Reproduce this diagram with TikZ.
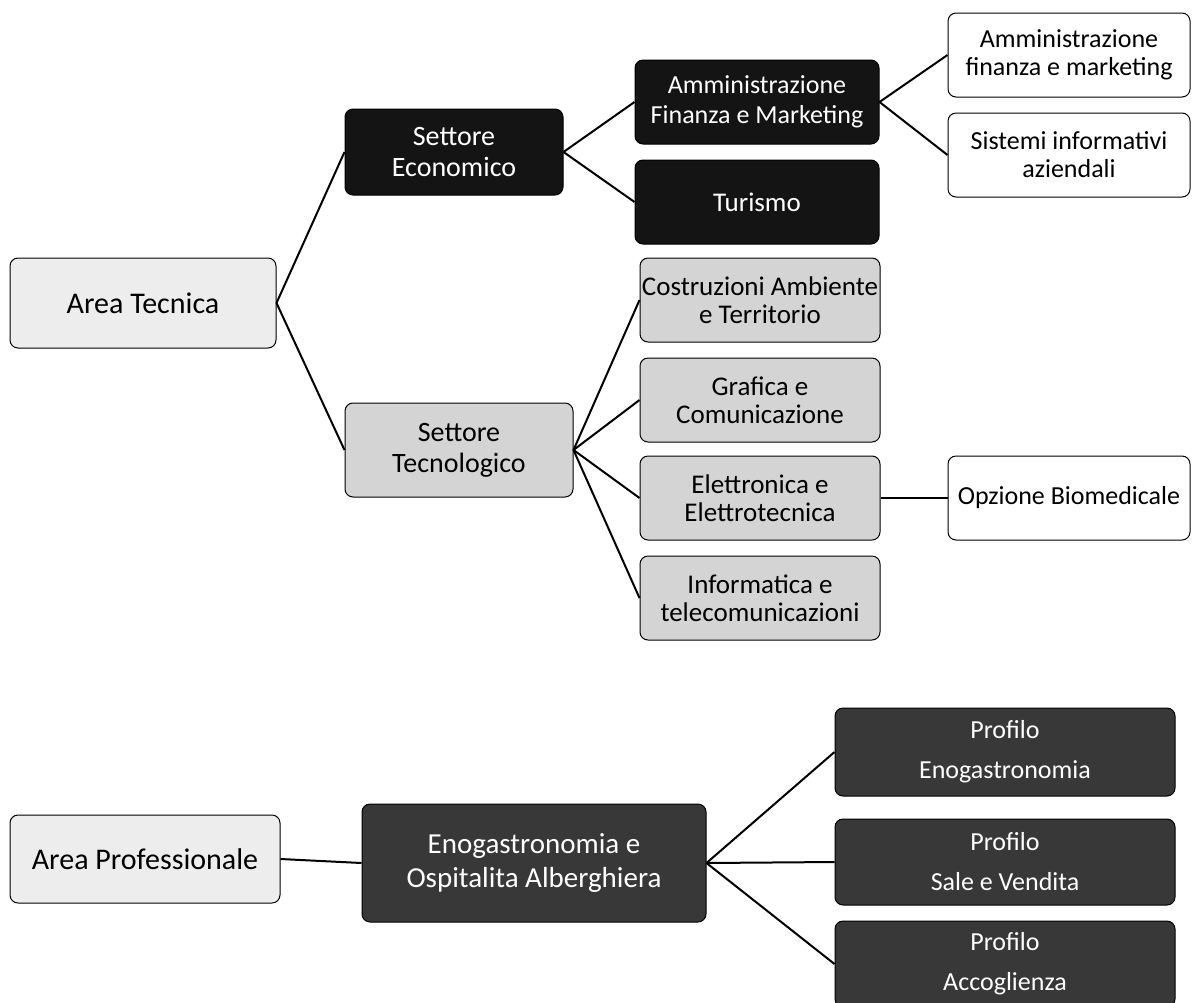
\documentclass[tikz,border=0pt]{standalone}
\usepackage{fontspec}
\setmainfont{Carlito}
\usetikzlibrary{positioning}

\tikzset{
  box/.style={draw=black, line width=0.5pt, rounded corners=4pt, align=center,
    inner xsep=0.5pt, inner ysep=2pt, font=\fontsize{13.5}{14}\selectfont},
  lightbox/.style={box, fill=gray!14, font=\fontsize{15}{17}\selectfont},
  midbox/.style={box, fill=gray!34},
  darkbox/.style={box, fill=black!92, text=white},
  greybox/.style={box, fill=black!78, text=white, font=\fontsize{13}{15}\selectfont},
  whitebox/.style={box, fill=white, font=\fontsize{13}{14}\selectfont},
  link/.style={line width=1pt}
}

\begin{document}
\begin{tikzpicture}[x=0.5pt, y=-0.5pt]
\useasboundingbox (0,0) rectangle (1194,1002);

% area tecnica
\node[lightbox, minimum width=133pt, minimum height=45pt] (tec) at (143,303) {Area Tecnica};
\node[darkbox, minimum width=109pt, minimum height=43pt, font=\fontsize{14}{15.5}\selectfont] (eco) at (454,152) {Settore\\Economico};
\node[midbox, minimum width=114pt, minimum height=47pt, font=\fontsize{14}{15.5}\selectfont] (tecno) at (459,450) {Settore\\Tecnologico};

\node[darkbox, minimum width=122pt, minimum height=42pt, font=\fontsize{13}{15}\selectfont] (afm) at (757,102) {Amministrazione\\Finanza e Marketing};
\node[darkbox, minimum width=122pt, minimum height=42pt] (tur) at (757,202) {Turismo};

\node[whitebox, minimum width=121pt, minimum height=42pt] (afmw) at (1069,55) {Amministrazione\\finanza e marketing};
\node[whitebox, minimum width=121pt, minimum height=42pt] (sia) at (1069,155) {Sistemi informativi\\aziendali};

\node[midbox, minimum width=120pt, minimum height=42pt] (cat) at (760,300) {Costruzioni Ambiente\\e Territorio};
\node[midbox, minimum width=120pt, minimum height=42pt] (gra) at (760,400) {Grafica e\\Comunicazione};
\node[midbox, minimum width=120pt, minimum height=42pt] (ele) at (760,498) {Elettronica e\\Elettrotecnica};
\node[midbox, minimum width=120pt, minimum height=42pt] (inf) at (760,598) {Informatica e\\telecomunicazioni};

\node[whitebox, minimum width=121pt, minimum height=42pt] (bio) at (1069,498) {Opzione Biomedicale};

% area professionale
\node[lightbox, minimum width=135pt, minimum height=44pt] (pro) at (145,859) {Area Professionale};
\node[greybox, minimum width=172pt, minimum height=59pt, font=\fontsize{14.5}{17}\selectfont] (eno) at (534,863) {Enogastronomia e\\Ospitalita Alberghiera};

\node[greybox, minimum width=170pt, minimum height=44pt] (pen) at (1005,752) {Profilo\\[5pt]Enogastronomia};
\node[greybox, minimum width=170pt, minimum height=43pt] (psv) at (1005,862) {Profilo\\[5pt]Sale e Vendita};
\node[greybox, minimum width=170pt, minimum height=43pt] (pac) at (1005,964) {Profilo\\[5pt]Accoglienza};

% connectors
\foreach \a/\b in {tec/eco, tec/tecno, eco/afm, eco/tur, afm/afmw, afm/sia,
  tecno/cat, tecno/gra, tecno/ele, tecno/inf, ele/bio,
  pro/eno, eno/pen, eno/psv, eno/pac}
  \draw[link] (\a.east) -- (\b.west);
\end{tikzpicture}
\end{document}
